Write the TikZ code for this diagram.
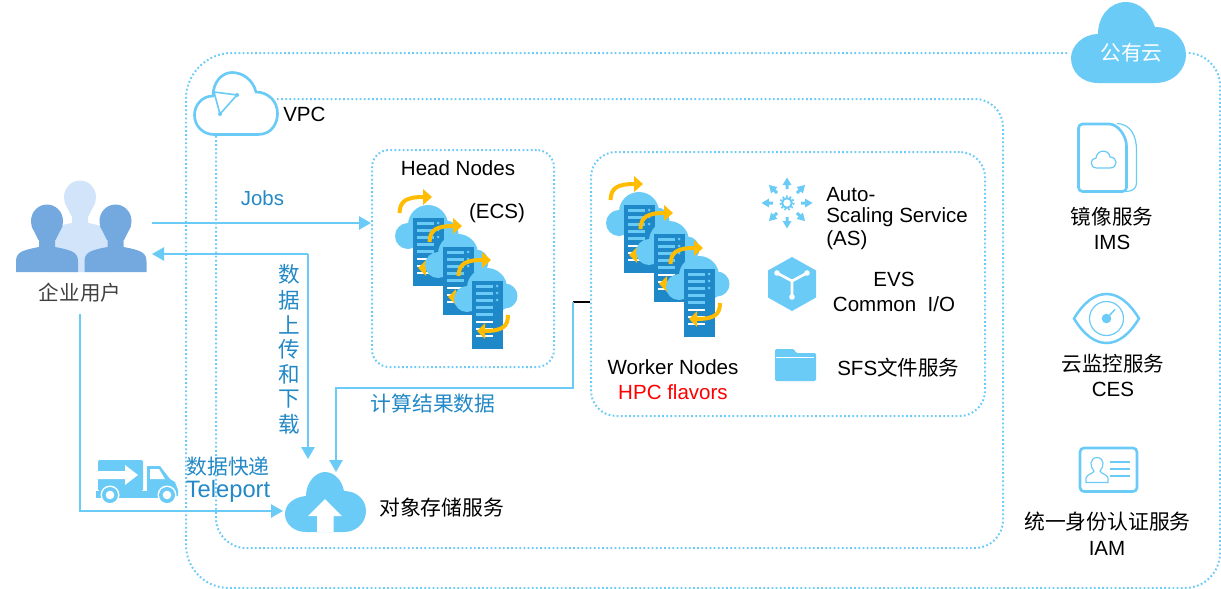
\documentclass[tikz,border=0pt]{standalone}
\usepackage{fontspec}
\setmainfont{Liberation Sans}
\newfontfamily\cjk{Noto Sans CJK SC}
\usetikzlibrary{arrows.meta,calc}
\definecolor{sky}{HTML}{6BCBF7}
\definecolor{deep}{HTML}{1E88C8}
\definecolor{gold}{HTML}{FFBC00}
\definecolor{barlight}{HTML}{6BCBF7}
\definecolor{userfront}{HTML}{74A9E0}
\definecolor{userback}{HTML}{D2E4FA}
\definecolor{txtblue}{HTML}{2288C6}
\tikzset{
  dots/.style={draw=sky,line width=1.5pt,dash pattern=on 1.3pt off 1.8pt},
  boxdots/.style={dots,rounded corners=#1,inner sep=0pt,anchor=north west},
  conn/.style={draw=sky,line width=1.3pt},
  arr/.style={-{Triangle[length=9pt,width=10pt,color=sky]}},
  lbl/.style={font=\fontsize{15.4}{18}\selectfont,text=black,inner sep=0pt},
  blbl/.style={font=\fontsize{15.6}{18}\selectfont,text=txtblue,inner sep=0pt},
  glbl/.style={font=\fontsize{15.4}{18}\selectfont,text=black!75,inner sep=0pt},
}
\newcommand{\serverIcon}[2]{%
\begin{scope}[shift={(#1,#2)}]
  \fill[sky] (-5,18) circle[radius=13] (15,7) circle[radius=20] (33,15) circle[radius=12.5] (5,21) circle[radius=10] (25,20) circle[radius=11];
  \fill[deep] (0,0) rectangle (31,68);
  \foreach \yy in {4,11,18,25,32} \fill[barlight] (4,\yy) rectangle (21,\yy+2.6);
  \foreach \yy in {39.5,46.5,53.5} \fill[white] (4,\yy) rectangle (21,\yy+2.6);
  \foreach \yy in {5,12,19} \fill[barlight] (25,\yy) circle[radius=1.5];
  \draw[gold,line width=3pt] (-13.5,-5) .. controls (-13,-17) and (-7,-21) .. (11,-21);
  \fill[gold] (10,-29) -- (19,-21) -- (10,-13) -- cycle;
  \draw[gold,line width=3pt] (36,34) .. controls (36,46) and (30,50) .. (12,50);
  \fill[gold] (13,42) -- (5,50) -- (13,58) -- cycle;
\end{scope}}
\newcommand{\personIcon}[3]{%
\begin{scope}[shift={(#1,0)}]
  \fill[#2] (0,#3) ellipse[x radius=16,y radius=16.5];
  \fill[#2] (-15.5,#3+5) -- (15.5,#3+5) -- (8.5,#3+19) -- (-8.5,#3+19) -- cycle;
  \fill[#2] (-31,272) -- (-31,#3+41) .. controls (-31,#3+32) and (-27,#3+29.5) .. (-8,#3+26) -- (-8,#3+15) -- (8,#3+15) -- (8,#3+26) .. controls (27,#3+29.5) and (31,#3+32) .. (31,#3+41) -- (31,272) -- cycle;
\end{scope}}
\begin{document}
\begin{tikzpicture}[x=0.75pt,y=-0.75pt]
\useasboundingbox (0,0) rectangle (1221,589);
% outer dotted frames
\coordinate (outerA) at (1067,53);
\coordinate (outerB) at (1187,53);
\draw[dots] (outerA) -- (232,53) arc[start angle=-90,end angle=-180,radius=46] -- (186,545) arc[start angle=-180,end angle=-270,radius=43] -- (1185,588) arc[start angle=90,end angle=0,radius=35] -- (1220,86) arc[start angle=0,end angle=-90,radius=33] -- (outerB);
\coordinate (vpcA) at (277,99);
\coordinate (vpcB) at (216,136);
\draw[dots] (vpcA) -- (975,99) arc[start angle=-90,end angle=0,radius=28] -- (1003,520) arc[start angle=0,end angle=90,radius=28] -- (246,548) arc[start angle=90,end angle=180,radius=30] -- (vpcB);
\node[boxdots=13pt,minimum width=136.5pt,minimum height=162.75pt] (head) at (371,149) {};
\node[boxdots=19pt,minimum width=295.5pt,minimum height=198pt] (worker) at (590,151) {};
% VPC cloud
\draw[sky,line width=2pt,fill=white] (258,134.5) .. controls (272,134.5) and (277.5,123) .. (277.5,113.5) .. controls (277.5,101) and (268,92) .. (256,92) .. controls (253,80) and (243,72.5) .. (232,72.5) .. controls (222,72.5) and (213,82) .. (213,96) .. controls (202,96) and (194.5,105) .. (194.5,115) .. controls (194.5,126) and (203,134.5) .. (214,134.5) -- cycle;
\draw[sky,line width=1.2pt] (214,92) -- (237,95) -- (220,114) -- cycle;
\fill[sky] (237,95) circle[radius=2] (220,114) circle[radius=2];
\node[lbl,anchor=west] (vpcT) at (283,114) {VPC};
% public cloud
\fill[sky] (1155,83) .. controls (1175,83) and (1186,68) .. (1186,55) .. controls (1186,40) and (1174,27) .. (1155,27) .. controls (1150,13) and (1140,2) .. (1126,2) .. controls (1110,2) and (1098,16) .. (1098,34) .. controls (1083,34) and (1071,46) .. (1071,58) .. controls (1071,72) and (1082,83) .. (1098,83) -- cycle;
\node[font=\cjk\fontsize{15.5}{18}\selectfont,text=white,inner sep=0pt] (pub) at (1131.5,53) {公有云};
% users
\personIcon{80}{userback}{197}
\personIcon{47}{userfront}{221}
\personIcon{115.5}{userfront}{221}
\node[glbl,font=\cjk\fontsize{15.4}{18}\selectfont] (users) at (80,293) {企业用户};
% server icons
\serverIcon{413}{218}
\serverIcon{443}{247}
\serverIcon{472}{281}
\serverIcon{624}{205}
\serverIcon{654}{234}
\serverIcon{684}{269}
\node[lbl] (headT) at (458,168) {Head Nodes};
\node[lbl] (ecsT) at (497,213) {(ECS)};
\node[lbl] (workerT) at (673,367) {Worker Nodes};
\node[lbl,text=red] (flavT) at (673,392) {HPC flavors};
% AS icon
\begin{scope}[shift={(787,203)}]
  \foreach \aa in {0,45,...,315}{
    \begin{scope}[rotate=\aa]
      \fill[sky] (25.5,0) -- (18,-4.5) -- (18,-1.5) -- (14,-1.5) -- (14,1.5) -- (18,1.5) -- (18,4.5) -- cycle;
    \end{scope}}
  \draw[sky,line width=1.5pt] (0,0) circle[radius=4.8];
  \draw[sky,line width=1.5pt,dash pattern=on 1.3pt off 1.5pt] (0,0) circle[radius=6.6];
\end{scope}
\node[lbl,anchor=west] (asA) at (826,195) {Auto-};
\node[lbl,anchor=west] (asB) at (826,217) {Scaling Service};
\node[lbl,anchor=west] (asC) at (826,240) {(AS)};
% EVS icon
\fill[sky] (792,257) -- (816,270.5) -- (816,297.5) -- (792,311) -- (768,297.5) -- (768,270.5) -- cycle;
\draw[white,line width=2pt] (777,273) -- (792,281) -- (807,273) (792,281) -- (792,297);
\fill[white] (777,273) circle[radius=2.8] (807,273) circle[radius=2.8] (792,297) circle[radius=2.8];
\node[lbl] (evsA) at (894,279) {EVS};
\node[lbl] (evsB) at (894,304) {Common\ \ I/O};
% folder
\fill[sky,rounded corners=1pt] (775,381) -- (775,349) -- (794,349) -- (796,353) -- (816,353) -- (816,381) -- cycle;
\draw[white,line width=0.6pt] (776,357) -- (814,357);
\node[lbl,anchor=west] (sfsT) at (837,368) {SFS{\cjk 文件服务}};
% IMS icon
\draw[sky,line width=0.9pt] (1117,123.5) .. controls (1130,124) and (1136.5,135) .. (1136.5,150) -- (1136.5,183) .. controls (1136.5,189) and (1132,191.5) .. (1125,191.5);
\draw[sky,line width=2pt,fill=white,rounded corners=3pt] (1078.5,124) -- (1105,124) .. controls (1118,124) and (1126.5,136) .. (1126.5,150) -- (1126.5,191.5) -- (1078.5,191.5) -- cycle;
\draw[sky,line width=0.9pt] (1097,168) .. controls (1089,168) and (1090,158) .. (1096,158) .. controls (1097,149) and (1109,149) .. (1110,157) .. controls (1118,157) and (1118,168) .. (1110,168) -- cycle;
\node[lbl,font=\cjk\fontsize{15.4}{18}\selectfont] (imsA) at (1112,217) {镜像服务};
\node[lbl] (imsB) at (1112,242) {IMS};
% CES icon
\draw[sky,line width=1.9pt] (1074,318.5) .. controls (1084,302) and (1095,294) .. (1106.5,294) .. controls (1118,294) and (1129,302) .. (1139,318.5) .. controls (1129,335) and (1118,343) .. (1106.5,343) .. controls (1095,343) and (1084,335) .. (1074,318.5) -- cycle;
\draw[sky,line width=0.9pt] (1106.5,318.5) circle[radius=17];
\fill[sky] (1106.5,318.5) circle[radius=4.8];
\draw[sky,line width=1.1pt] (1106.5,318.5) -- (1115,309.5);
\node[lbl,font=\cjk\fontsize{15.4}{18}\selectfont] (cesA) at (1113,364) {云监控服务};
\node[lbl] (cesB) at (1113,389) {CES};
% IAM icon
\draw[sky,line width=2pt,rounded corners=3pt] (1080,448) rectangle (1137,491.5);
\draw[sky,line width=0.9pt] (1086,482.5) -- (1086,478) .. controls (1087,474) and (1093,474) .. (1094,471) .. controls (1090,467) and (1089,458) .. (1097,457.5) .. controls (1105,458) and (1104,467) .. (1100,471) .. controls (1101,474) and (1107,474) .. (1108,478) -- (1108,482.5) -- cycle;
\draw[sky,line width=1.5pt] (1110,462) -- (1130,462);
\draw[sky,line width=1.1pt] (1110,469) -- (1130,469);
\draw[sky,line width=0.9pt] (1110,476) -- (1130,476);
\node[lbl,font=\cjk\fontsize{15.6}{18}\selectfont] (iamA) at (1107.5,522) {统一身份认证服务};
\node[lbl] (iamB) at (1107,548) {IAM};
% truck
\fill[sky,rounded corners=1pt] (98,460) rectangle (143,491);
\fill[white] (98,471) -- (125,471) -- (125,465) -- (138,475) -- (125,485) -- (125,479) -- (98,479) -- cycle;
\fill[sky] (147,466) -- (160,466) -- (170,479) -- (175,482) -- (178,490) -- (178,496) -- (147,496) -- cycle;
\fill[white] (150,469) -- (159,469) -- (165,479) -- (150,479) -- cycle;
\fill[sky] (96,491) rectangle (147,498);
\fill[sky] (146,492) rectangle (175,498);
\foreach \cx in {110,167}{
  \fill[white] (\cx,495) circle[radius=9.5];
  \fill[sky] (\cx,495) circle[radius=8];
  \fill[white] (\cx,495) circle[radius=4.3];
}
\node[blbl,font=\cjk\fontsize{15.6}{18}\selectfont] (expA) at (228,467) {数据快递};
\node[blbl,font=\fontsize{17.8}{18}\selectfont] (expB) at (228,491) {Teleport};
% storage cloud
\fill[sky] (344,532) .. controls (357,532) and (366,522) .. (366,511) .. controls (366,500) and (357,491) .. (344,491) .. controls (342,480) and (334,472) .. (325,472) .. controls (316,472) and (306,482) .. (306,496) .. controls (294,497) and (285,504) .. (285,514) .. controls (285,524) and (294,532) .. (306,532) -- cycle;
\fill[white] (325,499) -- (342,516) -- (333.5,516) -- (333.5,532) -- (317,532) -- (317,516) -- (308,516) -- cycle;
\node[lbl,font=\cjk\fontsize{15.6}{18}\selectfont,anchor=west] (obs) at (379,508) {对象存储服务};
% connectors
\coordinate (jobsS) at (152,223);
\coordinate (backE) at (152,254);
\coordinate (updn) at (308,459);
\coordinate (resS) at (573,302);
\coordinate (resE) at (336,472);
\coordinate (telS) at (80,314);
\coordinate (telE) at (283,511);
\draw[conn,arr] (jobsS) -- (head.west |- jobsS);
\node[blbl,font=\fontsize{15.3}{18}\selectfont] (jobsT) at (262.5,198) {Jobs};
\draw[conn,arr] (308,254) -- (backE);
\draw[conn,arr] (308,254) -- (updn);
\draw[black,line width=1.1pt] (resS) -- (resS -| worker.west);
\draw[conn,arr] (resS) -- (573,388) -- (336,388) -- (resE);
\draw[conn,arr] (telS) -- (80,511) -- (telE);
% vertical blue text
\foreach \ch/\yy in {数/274,据/300,上/325,传/349,和/374,下/399,载/424}
  \node[blbl,font=\cjk\fontsize{16.2}{18}\selectfont] at (289,\yy) {\ch};
\node[blbl,font=\cjk\fontsize{15.6}{18}\selectfont] (calc) at (433,404) {计算结果数据};
\end{tikzpicture}
\end{document}
